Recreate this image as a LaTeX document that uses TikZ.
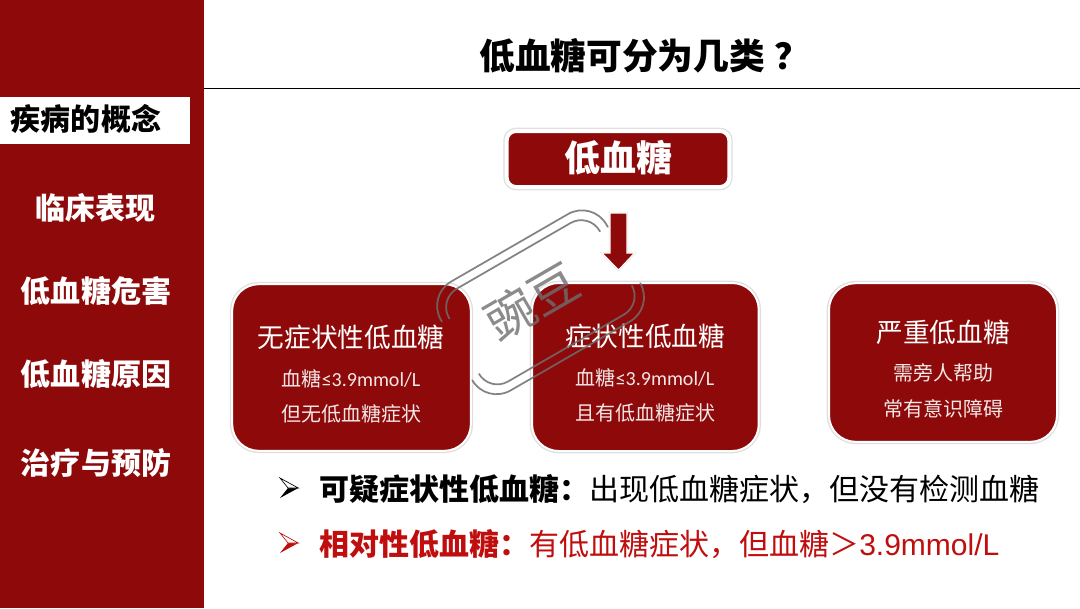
\documentclass[tikz,border=0pt]{standalone}
\usepackage{fontspec}
\setmainfont{Noto Sans CJK SC}
\newfontfamily\latinf{Liberation Sans}
\newfontfamily\carlf{Carlito}
\usetikzlibrary{shadows,calc}
\definecolor{darkred}{HTML}{8E0A0A}
\definecolor{brightred}{HTML}{C00D0D}
\definecolor{wmgray}{HTML}{6E6E6E}
\tikzset{
  x=0.75pt,y=-0.75pt,
  side/.style={font=\bfseries\fontsize{22.5}{24}\selectfont,text=white,anchor=center,inner sep=0},
  box/.style={draw=white,line width=1.5pt,fill=darkred,rounded corners=20pt,inner sep=0,
    preaction={draw=black!13,line width=3.4pt}},
  boxtitle/.style={font=\fontsize{20}{22}\selectfont,text=white,inner sep=0},
  boxline/.style={font=\fontsize{15}{17}\selectfont,text=white!90!darkred,inner sep=0},
  bullet/.style={font=\fontsize{22.5}{25}\selectfont,anchor=west,inner sep=0},
  wmline/.style={draw=wmgray,opacity=.85,line width=1.3pt,line cap=round},
}
\newcommand{\lowmark}[2]{%
  \fill[#1] (280,#2+10) -- (298.3,#2) -- (288,#2) -- cycle;
  \draw[#1,line width=0.5pt,line join=miter,fill=white] (280,#2-10) -- (298.3,#2) -- (288,#2) -- cycle;
}
\begin{document}
\begin{tikzpicture}
\useasboundingbox (0,0) rectangle (1080,608);
\fill[white] (0,0) rectangle (1080,608);
\fill[darkred] (0,0) rectangle (204,608);
\draw[line width=0.9pt,black] (204,88.5) -- (1080,88.5);
\node[font=\bfseries\fontsize{26.8}{28}\selectfont,inner sep=0,anchor=west] (title) at (479,56) {低血糖可分为几类\hspace{7pt}？};
\fill[white] (0,97) rectangle (190,144);
\node[side,text=black] (s1) at (86,119) {疾病的概念};
\node[side] (s2) at (95,208) {临床表现};
\node[side] (s3) at (96,291) {低血糖危害};
\node[side] (s4) at (96,374) {低血糖原因};
\node[side] (s5) at (96,463) {治疗与预防};
\node[box,rounded corners=7pt,line width=3pt,preaction={draw=black!12,line width=5pt},minimum width=167pt,minimum height=42pt] (top) at (618,159) {};
\node[font=\bfseries\fontsize{27}{30}\selectfont,text=white,inner sep=0] (toplab) at (618,158) {低血糖};
\node[box,minimum width=179pt,minimum height=125pt] (b1) at (351.5,367.5) {};
\node[box,minimum width=170pt,minimum height=126pt] (b2) at (645.4,367) {};
\node[box,minimum width=171pt,minimum height=119pt] (b3) at (943,362.5) {};
\node[boxtitle] (b1a) at (351,337) {无症状性低血糖};
\node[boxline] (b1b) at (351,379) {血糖{\carlf ≤3.9mmol/L}};
\node[boxline] (b1c) at (351,414) {但无低血糖症状};
\node[boxtitle] (b2a) at (645,336) {症状性低血糖};
\node[boxline] (b2b) at (645,378) {血糖{\carlf ≤3.9mmol/L}};
\node[boxline] (b2c) at (645,413) {且有低血糖症状};
\node[boxtitle] (b3a) at (943,332) {严重低血糖};
\node[boxline] (b3b) at (943,373) {需旁人帮助};
\node[boxline] (b3c) at (943,409) {常有意识障碍};
% arrow
\path[fill=darkred,draw=white,line width=0.8pt,preaction={draw=black!10,line width=1.6pt}] (610,213) -- (627,213) -- (627,253) -- (634.5,253) -- (618.5,270) -- (602,253) -- (610,253) -- cycle;
% watermark
\begin{scope}[shift={(542,303)},rotate=30]
\draw[wmline,rounded corners=21pt] (-96,-34) -- (-96,-64) -- (95,-64) -- (95,-33);
\draw[wmline,rounded corners=21pt] (-99,32) -- (-99,60) -- (95,60) -- (95,32);
\draw[wmline,rounded corners=16pt] (-88,-33) -- (-88,-55) -- (86,-55) -- (86,-33);
\draw[wmline,rounded corners=16pt] (-90,30) -- (-90,51) -- (86.5,51) -- (86.5,30);
\node[transform shape,font=\fontsize{37}{40}\selectfont,text=wmgray,opacity=.8,inner sep=0] (wm) at (-8,-7) {豌豆};
\end{scope}
\lowmark{black}{488}
\lowmark{brightred}{543}
\node[bullet] (l1) at (319,489) {\textbf{可疑症状性低血糖：}出现低血糖症状，但没有检测血糖};
\node[bullet,text=brightred] (l2) at (319,544) {\textbf{相对性低血糖：}有低血糖症状，但血糖＞{\latinf 3.9mmol/L}};
\end{tikzpicture}
\end{document}
